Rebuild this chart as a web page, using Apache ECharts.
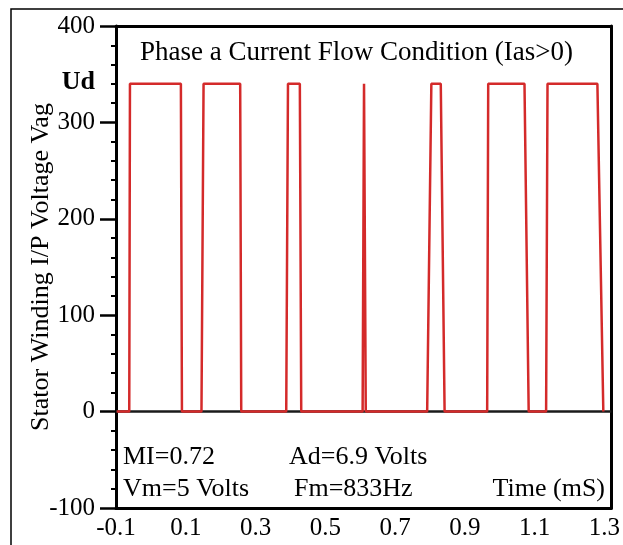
<!DOCTYPE html>
<html>
<head>
<meta charset="utf-8">
<script src="https://cdn.jsdelivr.net/npm/echarts@6/dist/echarts.min.js"></script>
<style>
html,body{margin:0;padding:0;background:#fff;}
#chart{width:623px;height:545px;}
</style>
</head>
<body>
<div id="chart"></div>
<script>
// Time in ms (x) and phase voltage Vag in volts (y) for the PWM trace
const timeMs = [-0.098, -0.062, -0.060, 0.086, 0.089,
  0.145, 0.151, 0.256, 0.259,
  0.388, 0.393, 0.427, 0.431,
  0.607, 0.611, 0.616,
  0.792, 0.804, 0.831, 0.842,
  0.964, 0.967, 1.071, 1.083,
  1.133, 1.137, 1.280, 1.297];
const vag = [0, 0, 340, 340, 0,
  0, 340, 340, 0,
  0, 340, 340, 0,
  0, 340, 0,
  0, 340, 340, 0,
  0, 340, 340, 0,
  0, 340, 340, 0];
const zeroLineX = [-0.1, 1.32];
const zeroLineY = [0, 0];
const xTicks = [-0.1, 0.1, 0.3, 0.5, 0.7, 0.9, 1.1, 1.3];
const yTicks = [-100, 0, 100, 200, 300, 400];

const FONT = "'Liberation Serif', 'Times New Roman', serif";
const chart = echarts.init(document.getElementById('chart'));

const pwm = timeMs.map((t, i) => [t, vag[i]]);
const zero = zeroLineX.map((t, i) => [t, zeroLineY[i]]);

chart.setOption({
  animation: false,
  backgroundColor: '#fff',
  grid: {left: 116, top: 26, right: 10, bottom: 37, containLabel: false},
  xAxis: [{
    type: 'value', min: -0.1, max: 1.32, interval: 0.2,
    axisLine: {show: true, onZero: false, lineStyle: {color: '#000', width: 3}},
    axisTick: {show: false},
    splitLine: {show: false},
    axisLabel: {color: '#000', fontFamily: FONT, fontSize: 25, margin: 8,
      showMaxLabel: false,
      formatter: v => xTicks.some(t => Math.abs(t - v) < 1e-6) ? v.toFixed(1) : ''}
  }, {
    type: 'value', position: 'top', min: -0.1, max: 1.32,
    axisLine: {show: true, onZero: false, lineStyle: {color: '#000', width: 3}},
    axisTick: {show: false}, axisLabel: {show: false}, splitLine: {show: false}
  }],
  yAxis: [{
    type: 'value', min: -100, max: 400, interval: 100,
    axisLine: {show: true, onZero: false, lineStyle: {color: '#000', width: 3}},
    axisTick: {show: true, inside: false, length: 16, lineStyle: {color: '#000', width: 2.5}},
    minorTick: {show: true, splitNumber: 5, length: 5, lineStyle: {color: '#000', width: 2}},
    splitLine: {show: false},
    axisLabel: {color: '#000', fontFamily: FONT, fontSize: 25, margin: 21,
      formatter: v => yTicks.includes(v) ? String(v) : ''},
    name: 'Stator Winding I/P Voltage Vag',
    nameLocation: 'middle', nameRotate: 90, nameGap: 62, nameMoveOverlap: false,
    nameTextStyle: {color: '#000', fontFamily: FONT, fontSize: 26}
  }, {
    type: 'value', position: 'right', min: -100, max: 400,
    axisLine: {show: true, onZero: false, lineStyle: {color: '#000', width: 3}},
    axisTick: {show: false}, axisLabel: {show: false}, splitLine: {show: false}
  }],
  series: [{
    type: 'line', data: zero, showSymbol: false, symbol: 'none', z: 2,
    lineStyle: {color: '#1a1a1a', width: 2.5}
  }, {
    type: 'line', data: pwm, showSymbol: false, symbol: 'none', z: 3,
    lineStyle: {color: '#d42a2a', width: 2.5}
  }],
  graphic: [
    {type: 'rect', silent: true, z: 0, shape: {x: 11, y: 9, width: 700, height: 700},
      style: {fill: 'none', stroke: '#000', lineWidth: 1.5}},
    {type: 'text', x: 95, y: 82, style: {text: 'Ud', font: 'bold 26px ' + FONT, fill: '#000', textAlign: 'right', textVerticalAlign: 'middle'}},
    {type: 'text', x: 140, y: 53, style: {text: 'Phase a Current Flow Condition (Ias>0)', font: '27px ' + FONT, fill: '#000', textAlign: 'left', textVerticalAlign: 'middle'}},
    {type: 'text', x: 123, y: 457, style: {text: 'MI=0.72', font: '26px ' + FONT, fill: '#000', textAlign: 'left', textVerticalAlign: 'middle'}},
    {type: 'text', x: 289, y: 457, style: {text: 'Ad=6.9 Volts', font: '26px ' + FONT, fill: '#000', textAlign: 'left', textVerticalAlign: 'middle'}},
    {type: 'text', x: 123, y: 489, style: {text: 'Vm=5 Volts', font: '26px ' + FONT, fill: '#000', textAlign: 'left', textVerticalAlign: 'middle'}},
    {type: 'text', x: 294, y: 489, style: {text: 'Fm=833Hz', font: '26px ' + FONT, fill: '#000', textAlign: 'left', textVerticalAlign: 'middle'}},
    {type: 'text', x: 605, y: 489, style: {text: 'Time (mS)', font: '26px ' + FONT, fill: '#000', textAlign: 'right', textVerticalAlign: 'middle'}}
  ]
});
</script>
</body>
</html>
